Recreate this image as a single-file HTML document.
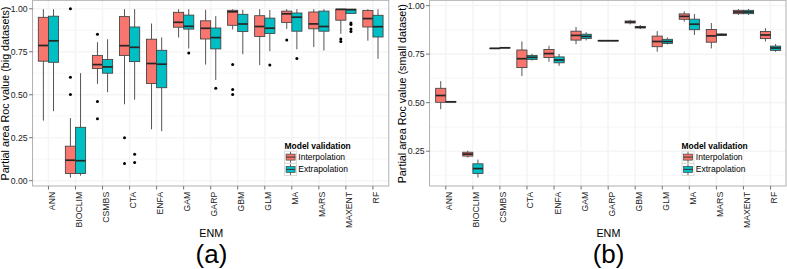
<!DOCTYPE html><html><head><meta charset="utf-8"><style>html,body{margin:0;padding:0;background:#fff;}svg{display:block;}text{font-family:"Liberation Sans",sans-serif;}.tk{font-size:8.7px;fill:#222;}.ti{font-size:10.75px;fill:#000;}.big{font-size:26px;fill:#000;}.lt{font-size:8.45px;font-weight:bold;fill:#000;}.lx{font-size:8.5px;fill:#000;}</style></head><body>
<svg width="787" height="269" viewBox="0 0 787 269">
<rect width="787" height="269" fill="#fff"/>
<rect x="32.6" y="0.3" width="356.2" height="185.7" fill="#fff"/>
<line x1="32.6" x2="388.8" y1="159.21" y2="159.21" stroke="#F9F9F9" stroke-width="1.6"/>
<line x1="32.6" x2="388.8" y1="116.24" y2="116.24" stroke="#F9F9F9" stroke-width="1.6"/>
<line x1="32.6" x2="388.8" y1="73.26" y2="73.26" stroke="#F9F9F9" stroke-width="1.6"/>
<line x1="32.6" x2="388.8" y1="30.29" y2="30.29" stroke="#F9F9F9" stroke-width="1.6"/>
<line x1="32.6" x2="388.8" y1="180.70" y2="180.70" stroke="#F5F5F5" stroke-width="1.6"/>
<line x1="32.6" x2="388.8" y1="137.72" y2="137.72" stroke="#F5F5F5" stroke-width="1.6"/>
<line x1="32.6" x2="388.8" y1="94.75" y2="94.75" stroke="#F5F5F5" stroke-width="1.6"/>
<line x1="32.6" x2="388.8" y1="51.77" y2="51.77" stroke="#F5F5F5" stroke-width="1.6"/>
<line x1="32.6" x2="388.8" y1="8.80" y2="8.80" stroke="#F5F5F5" stroke-width="1.6"/>
<line x1="48.45" x2="48.45" y1="0.3" y2="186.0" stroke="#F5F5F5" stroke-width="1.6"/>
<line x1="75.49" x2="75.49" y1="0.3" y2="186.0" stroke="#F5F5F5" stroke-width="1.6"/>
<line x1="102.53" x2="102.53" y1="0.3" y2="186.0" stroke="#F5F5F5" stroke-width="1.6"/>
<line x1="129.57" x2="129.57" y1="0.3" y2="186.0" stroke="#F5F5F5" stroke-width="1.6"/>
<line x1="156.61" x2="156.61" y1="0.3" y2="186.0" stroke="#F5F5F5" stroke-width="1.6"/>
<line x1="183.65" x2="183.65" y1="0.3" y2="186.0" stroke="#F5F5F5" stroke-width="1.6"/>
<line x1="210.69" x2="210.69" y1="0.3" y2="186.0" stroke="#F5F5F5" stroke-width="1.6"/>
<line x1="237.73" x2="237.73" y1="0.3" y2="186.0" stroke="#F5F5F5" stroke-width="1.6"/>
<line x1="264.77" x2="264.77" y1="0.3" y2="186.0" stroke="#F5F5F5" stroke-width="1.6"/>
<line x1="291.81" x2="291.81" y1="0.3" y2="186.0" stroke="#F5F5F5" stroke-width="1.6"/>
<line x1="318.85" x2="318.85" y1="0.3" y2="186.0" stroke="#F5F5F5" stroke-width="1.6"/>
<line x1="345.89" x2="345.89" y1="0.3" y2="186.0" stroke="#F5F5F5" stroke-width="1.6"/>
<line x1="372.93" x2="372.93" y1="0.3" y2="186.0" stroke="#F5F5F5" stroke-width="1.6"/>
<line x1="43.38" x2="43.38" y1="9.2" y2="17.3" stroke="#555" stroke-width="1"/>
<line x1="43.38" x2="43.38" y1="61.2" y2="120.6" stroke="#555" stroke-width="1"/>
<rect x="38.31" y="17.3" width="10.14" height="43.90" fill="#F8766D" stroke="#404040" stroke-width="0.85"/>
<line x1="38.31" x2="48.45" y1="45.5" y2="45.5" stroke="#262626" stroke-width="1.7"/>
<line x1="53.52" x2="53.52" y1="9.2" y2="16.2" stroke="#555" stroke-width="1"/>
<line x1="53.52" x2="53.52" y1="62.3" y2="111.2" stroke="#555" stroke-width="1"/>
<rect x="48.45" y="16.2" width="10.14" height="46.10" fill="#00BFC4" stroke="#404040" stroke-width="0.85"/>
<line x1="48.45" x2="58.59" y1="40.8" y2="40.8" stroke="#262626" stroke-width="1.7"/>
<line x1="70.42" x2="70.42" y1="118.1" y2="146.2" stroke="#555" stroke-width="1"/>
<line x1="70.42" x2="70.42" y1="173.5" y2="177.6" stroke="#555" stroke-width="1"/>
<rect x="65.35" y="146.2" width="10.14" height="27.30" fill="#F8766D" stroke="#404040" stroke-width="0.85"/>
<line x1="65.35" x2="75.49" y1="160.2" y2="160.2" stroke="#262626" stroke-width="1.7"/>
<circle cx="70.42" cy="8.8" r="1.5" fill="#000"/>
<circle cx="70.42" cy="77.3" r="1.5" fill="#000"/>
<circle cx="70.42" cy="94.6" r="1.5" fill="#000"/>
<line x1="80.56" x2="80.56" y1="73.2" y2="127.3" stroke="#555" stroke-width="1"/>
<line x1="80.56" x2="80.56" y1="173.5" y2="175.7" stroke="#555" stroke-width="1"/>
<rect x="75.49" y="127.3" width="10.14" height="46.20" fill="#00BFC4" stroke="#404040" stroke-width="0.85"/>
<line x1="75.49" x2="85.63" y1="160.7" y2="160.7" stroke="#262626" stroke-width="1.7"/>
<line x1="97.46" x2="97.46" y1="42.2" y2="55.4" stroke="#555" stroke-width="1"/>
<line x1="97.46" x2="97.46" y1="68.5" y2="83.8" stroke="#555" stroke-width="1"/>
<rect x="92.39" y="55.4" width="10.14" height="13.10" fill="#F8766D" stroke="#404040" stroke-width="0.85"/>
<line x1="92.39" x2="102.53" y1="64.6" y2="64.6" stroke="#262626" stroke-width="1.7"/>
<circle cx="97.46" cy="34.2" r="1.5" fill="#000"/>
<circle cx="97.46" cy="101.5" r="1.5" fill="#000"/>
<circle cx="97.46" cy="118.8" r="1.5" fill="#000"/>
<line x1="107.60" x2="107.60" y1="39.2" y2="59.5" stroke="#555" stroke-width="1"/>
<line x1="107.60" x2="107.60" y1="73.2" y2="92.3" stroke="#555" stroke-width="1"/>
<rect x="102.53" y="59.5" width="10.14" height="13.70" fill="#00BFC4" stroke="#404040" stroke-width="0.85"/>
<line x1="102.53" x2="112.67" y1="66.9" y2="66.9" stroke="#262626" stroke-width="1.7"/>
<line x1="124.50" x2="124.50" y1="9.2" y2="16.6" stroke="#555" stroke-width="1"/>
<line x1="124.50" x2="124.50" y1="55.4" y2="104.3" stroke="#555" stroke-width="1"/>
<rect x="119.43" y="16.6" width="10.14" height="38.80" fill="#F8766D" stroke="#404040" stroke-width="0.85"/>
<line x1="119.43" x2="129.57" y1="45.7" y2="45.7" stroke="#262626" stroke-width="1.7"/>
<circle cx="124.50" cy="137.7" r="1.5" fill="#000"/>
<circle cx="124.50" cy="163.6" r="1.5" fill="#000"/>
<line x1="134.64" x2="134.64" y1="9.2" y2="27.0" stroke="#555" stroke-width="1"/>
<line x1="134.64" x2="134.64" y1="61.6" y2="99.7" stroke="#555" stroke-width="1"/>
<rect x="129.57" y="27.0" width="10.14" height="34.60" fill="#00BFC4" stroke="#404040" stroke-width="0.85"/>
<line x1="129.57" x2="139.71" y1="47.3" y2="47.3" stroke="#262626" stroke-width="1.7"/>
<circle cx="134.64" cy="154.2" r="1.5" fill="#000"/>
<circle cx="134.64" cy="162.6" r="1.5" fill="#000"/>
<line x1="151.54" x2="151.54" y1="23.5" y2="39.2" stroke="#555" stroke-width="1"/>
<line x1="151.54" x2="151.54" y1="83.5" y2="129.3" stroke="#555" stroke-width="1"/>
<rect x="146.47" y="39.2" width="10.14" height="44.30" fill="#F8766D" stroke="#404040" stroke-width="0.85"/>
<line x1="146.47" x2="156.61" y1="63.5" y2="63.5" stroke="#262626" stroke-width="1.7"/>
<line x1="161.68" x2="161.68" y1="37.4" y2="50.3" stroke="#555" stroke-width="1"/>
<line x1="161.68" x2="161.68" y1="87.7" y2="131.2" stroke="#555" stroke-width="1"/>
<rect x="156.61" y="50.3" width="10.14" height="37.40" fill="#00BFC4" stroke="#404040" stroke-width="0.85"/>
<line x1="156.61" x2="166.75" y1="64.2" y2="64.2" stroke="#262626" stroke-width="1.7"/>
<line x1="178.58" x2="178.58" y1="9.2" y2="12.3" stroke="#555" stroke-width="1"/>
<line x1="178.58" x2="178.58" y1="27.2" y2="37.5" stroke="#555" stroke-width="1"/>
<rect x="173.51" y="12.3" width="10.14" height="14.90" fill="#F8766D" stroke="#404040" stroke-width="0.85"/>
<line x1="173.51" x2="183.65" y1="22.3" y2="22.3" stroke="#262626" stroke-width="1.7"/>
<line x1="188.72" x2="188.72" y1="9.2" y2="15.1" stroke="#555" stroke-width="1"/>
<line x1="188.72" x2="188.72" y1="29.1" y2="48.5" stroke="#555" stroke-width="1"/>
<rect x="183.65" y="15.1" width="10.14" height="14.00" fill="#00BFC4" stroke="#404040" stroke-width="0.85"/>
<line x1="183.65" x2="193.79" y1="26.3" y2="26.3" stroke="#262626" stroke-width="1.7"/>
<circle cx="188.72" cy="53.1" r="1.5" fill="#000"/>
<line x1="205.62" x2="205.62" y1="9.7" y2="20.8" stroke="#555" stroke-width="1"/>
<line x1="205.62" x2="205.62" y1="39.0" y2="64.6" stroke="#555" stroke-width="1"/>
<rect x="200.55" y="20.8" width="10.14" height="18.20" fill="#F8766D" stroke="#404040" stroke-width="0.85"/>
<line x1="200.55" x2="210.69" y1="28.3" y2="28.3" stroke="#262626" stroke-width="1.7"/>
<line x1="215.76" x2="215.76" y1="16.1" y2="28.0" stroke="#555" stroke-width="1"/>
<line x1="215.76" x2="215.76" y1="48.9" y2="80.0" stroke="#555" stroke-width="1"/>
<rect x="210.69" y="28.0" width="10.14" height="20.90" fill="#00BFC4" stroke="#404040" stroke-width="0.85"/>
<line x1="210.69" x2="220.83" y1="37.6" y2="37.6" stroke="#262626" stroke-width="1.7"/>
<circle cx="215.76" cy="88.2" r="1.5" fill="#000"/>
<line x1="232.66" x2="232.66" y1="9.2" y2="10.3" stroke="#555" stroke-width="1"/>
<line x1="232.66" x2="232.66" y1="25.3" y2="29.5" stroke="#555" stroke-width="1"/>
<rect x="227.59" y="10.3" width="10.14" height="15.00" fill="#F8766D" stroke="#404040" stroke-width="0.85"/>
<line x1="227.59" x2="237.73" y1="11.8" y2="11.8" stroke="#262626" stroke-width="1.7"/>
<circle cx="232.66" cy="64.6" r="1.5" fill="#000"/>
<circle cx="232.66" cy="89.5" r="1.5" fill="#000"/>
<circle cx="232.66" cy="94.6" r="1.5" fill="#000"/>
<line x1="242.80" x2="242.80" y1="9.7" y2="14.3" stroke="#555" stroke-width="1"/>
<line x1="242.80" x2="242.80" y1="31.6" y2="54.2" stroke="#555" stroke-width="1"/>
<rect x="237.73" y="14.3" width="10.14" height="17.30" fill="#00BFC4" stroke="#404040" stroke-width="0.85"/>
<line x1="237.73" x2="247.87" y1="24.0" y2="24.0" stroke="#262626" stroke-width="1.7"/>
<line x1="259.70" x2="259.70" y1="9.2" y2="15.7" stroke="#555" stroke-width="1"/>
<line x1="259.70" x2="259.70" y1="36.5" y2="65.1" stroke="#555" stroke-width="1"/>
<rect x="254.63" y="15.7" width="10.14" height="20.80" fill="#F8766D" stroke="#404040" stroke-width="0.85"/>
<line x1="254.63" x2="264.77" y1="26.5" y2="26.5" stroke="#262626" stroke-width="1.7"/>
<line x1="269.84" x2="269.84" y1="9.9" y2="18.1" stroke="#555" stroke-width="1"/>
<line x1="269.84" x2="269.84" y1="33.5" y2="51.2" stroke="#555" stroke-width="1"/>
<rect x="264.77" y="18.1" width="10.14" height="15.40" fill="#00BFC4" stroke="#404040" stroke-width="0.85"/>
<line x1="264.77" x2="274.91" y1="28.2" y2="28.2" stroke="#262626" stroke-width="1.7"/>
<circle cx="269.84" cy="65.1" r="1.5" fill="#000"/>
<line x1="286.74" x2="286.74" y1="9.2" y2="11.1" stroke="#555" stroke-width="1"/>
<line x1="286.74" x2="286.74" y1="22.6" y2="28.8" stroke="#555" stroke-width="1"/>
<rect x="281.67" y="11.1" width="10.14" height="11.50" fill="#F8766D" stroke="#404040" stroke-width="0.85"/>
<line x1="281.67" x2="291.81" y1="13.8" y2="13.8" stroke="#262626" stroke-width="1.7"/>
<circle cx="286.74" cy="40.1" r="1.5" fill="#000"/>
<line x1="296.88" x2="296.88" y1="9.2" y2="13.0" stroke="#555" stroke-width="1"/>
<line x1="296.88" x2="296.88" y1="31.2" y2="49.3" stroke="#555" stroke-width="1"/>
<rect x="291.81" y="13.0" width="10.14" height="18.20" fill="#00BFC4" stroke="#404040" stroke-width="0.85"/>
<line x1="291.81" x2="301.95" y1="17.2" y2="17.2" stroke="#262626" stroke-width="1.7"/>
<circle cx="296.88" cy="58.6" r="1.5" fill="#000"/>
<line x1="313.78" x2="313.78" y1="9.2" y2="12.0" stroke="#555" stroke-width="1"/>
<line x1="313.78" x2="313.78" y1="28.8" y2="47.1" stroke="#555" stroke-width="1"/>
<rect x="308.71" y="12.0" width="10.14" height="16.80" fill="#F8766D" stroke="#404040" stroke-width="0.85"/>
<line x1="308.71" x2="318.85" y1="23.9" y2="23.9" stroke="#262626" stroke-width="1.7"/>
<line x1="323.92" x2="323.92" y1="9.2" y2="11.1" stroke="#555" stroke-width="1"/>
<line x1="323.92" x2="323.92" y1="31.2" y2="50.5" stroke="#555" stroke-width="1"/>
<rect x="318.85" y="11.1" width="10.14" height="20.10" fill="#00BFC4" stroke="#404040" stroke-width="0.85"/>
<line x1="318.85" x2="328.99" y1="26.5" y2="26.5" stroke="#262626" stroke-width="1.7"/>
<line x1="340.82" x2="340.82" y1="9.2" y2="9.2" stroke="#555" stroke-width="1"/>
<line x1="340.82" x2="340.82" y1="20.2" y2="33.7" stroke="#555" stroke-width="1"/>
<rect x="335.75" y="9.2" width="10.14" height="11.00" fill="#F8766D" stroke="#404040" stroke-width="0.85"/>
<line x1="335.75" x2="345.89" y1="9.4" y2="9.4" stroke="#262626" stroke-width="1.7"/>
<circle cx="340.82" cy="38.9" r="1.5" fill="#000"/>
<circle cx="340.82" cy="41.6" r="1.5" fill="#000"/>
<line x1="350.96" x2="350.96" y1="9.2" y2="9.2" stroke="#555" stroke-width="1"/>
<line x1="350.96" x2="350.96" y1="13.4" y2="13.4" stroke="#555" stroke-width="1"/>
<rect x="345.89" y="9.2" width="10.14" height="4.20" fill="#00BFC4" stroke="#404040" stroke-width="0.85"/>
<line x1="345.89" x2="356.03" y1="9.7" y2="9.7" stroke="#262626" stroke-width="1.7"/>
<circle cx="350.96" cy="23.0" r="1.5" fill="#000"/>
<circle cx="350.96" cy="24.5" r="1.5" fill="#000"/>
<circle cx="350.96" cy="29.0" r="1.5" fill="#000"/>
<circle cx="350.96" cy="31.5" r="1.5" fill="#000"/>
<line x1="367.86" x2="367.86" y1="9.2" y2="10.4" stroke="#555" stroke-width="1"/>
<line x1="367.86" x2="367.86" y1="27.0" y2="40.7" stroke="#555" stroke-width="1"/>
<rect x="362.79" y="10.4" width="10.14" height="16.60" fill="#F8766D" stroke="#404040" stroke-width="0.85"/>
<line x1="362.79" x2="372.93" y1="18.6" y2="18.6" stroke="#262626" stroke-width="1.7"/>
<line x1="378.00" x2="378.00" y1="9.2" y2="15.3" stroke="#555" stroke-width="1"/>
<line x1="378.00" x2="378.00" y1="37.0" y2="58.8" stroke="#555" stroke-width="1"/>
<rect x="372.93" y="15.3" width="10.14" height="21.70" fill="#00BFC4" stroke="#404040" stroke-width="0.85"/>
<line x1="372.93" x2="383.07" y1="26.7" y2="26.7" stroke="#262626" stroke-width="1.7"/>
<rect x="32.6" y="0.3" width="356.2" height="185.7" fill="none" stroke="#A8A8A8" stroke-width="0.9"/>
<line x1="29.1" x2="32.6" y1="180.70" y2="180.70" stroke="#707070" stroke-width="1"/>
<text x="27.6" y="183.70" text-anchor="end" class="tk">0.00</text>
<line x1="29.1" x2="32.6" y1="137.72" y2="137.72" stroke="#707070" stroke-width="1"/>
<text x="27.6" y="140.72" text-anchor="end" class="tk">0.25</text>
<line x1="29.1" x2="32.6" y1="94.75" y2="94.75" stroke="#707070" stroke-width="1"/>
<text x="27.6" y="97.75" text-anchor="end" class="tk">0.50</text>
<line x1="29.1" x2="32.6" y1="51.77" y2="51.77" stroke="#707070" stroke-width="1"/>
<text x="27.6" y="54.77" text-anchor="end" class="tk">0.75</text>
<line x1="29.1" x2="32.6" y1="8.80" y2="8.80" stroke="#707070" stroke-width="1"/>
<text x="27.6" y="11.80" text-anchor="end" class="tk">1.00</text>
<line x1="48.45" x2="48.45" y1="186.0" y2="189.5" stroke="#707070" stroke-width="1"/>
<text transform="translate(54.95,191.8) rotate(-90)" text-anchor="end" class="tk">ANN</text>
<line x1="75.49" x2="75.49" y1="186.0" y2="189.5" stroke="#707070" stroke-width="1"/>
<text transform="translate(81.99,191.8) rotate(-90)" text-anchor="end" class="tk">BIOCLIM</text>
<line x1="102.53" x2="102.53" y1="186.0" y2="189.5" stroke="#707070" stroke-width="1"/>
<text transform="translate(109.03,191.8) rotate(-90)" text-anchor="end" class="tk">CSMBS</text>
<line x1="129.57" x2="129.57" y1="186.0" y2="189.5" stroke="#707070" stroke-width="1"/>
<text transform="translate(136.07,191.8) rotate(-90)" text-anchor="end" class="tk">CTA</text>
<line x1="156.61" x2="156.61" y1="186.0" y2="189.5" stroke="#707070" stroke-width="1"/>
<text transform="translate(163.11,191.8) rotate(-90)" text-anchor="end" class="tk">ENFA</text>
<line x1="183.65" x2="183.65" y1="186.0" y2="189.5" stroke="#707070" stroke-width="1"/>
<text transform="translate(190.15,191.8) rotate(-90)" text-anchor="end" class="tk">GAM</text>
<line x1="210.69" x2="210.69" y1="186.0" y2="189.5" stroke="#707070" stroke-width="1"/>
<text transform="translate(217.19,191.8) rotate(-90)" text-anchor="end" class="tk">GARP</text>
<line x1="237.73" x2="237.73" y1="186.0" y2="189.5" stroke="#707070" stroke-width="1"/>
<text transform="translate(244.23,191.8) rotate(-90)" text-anchor="end" class="tk">GBM</text>
<line x1="264.77" x2="264.77" y1="186.0" y2="189.5" stroke="#707070" stroke-width="1"/>
<text transform="translate(271.27,191.8) rotate(-90)" text-anchor="end" class="tk">GLM</text>
<line x1="291.81" x2="291.81" y1="186.0" y2="189.5" stroke="#707070" stroke-width="1"/>
<text transform="translate(298.31,191.8) rotate(-90)" text-anchor="end" class="tk">MA</text>
<line x1="318.85" x2="318.85" y1="186.0" y2="189.5" stroke="#707070" stroke-width="1"/>
<text transform="translate(325.35,191.8) rotate(-90)" text-anchor="end" class="tk">MARS</text>
<line x1="345.89" x2="345.89" y1="186.0" y2="189.5" stroke="#707070" stroke-width="1"/>
<text transform="translate(352.39,191.8) rotate(-90)" text-anchor="end" class="tk">MAXENT</text>
<line x1="372.93" x2="372.93" y1="186.0" y2="189.5" stroke="#707070" stroke-width="1"/>
<text transform="translate(379.43,191.8) rotate(-90)" text-anchor="end" class="tk">RF</text>
<text transform="translate(9.1,93.6) rotate(-90)" text-anchor="middle" class="ti">Partial area Roc value (big datasets)</text>
<text x="211.30" y="236.9" text-anchor="middle" class="ti">ENM</text>
<text x="211.50" y="263.4" text-anchor="middle" class="big">(a)</text>
<text x="284.6" y="148.8" class="lt">Model validation</text>
<rect x="284.5" y="151.2" width="12" height="12" fill="#fff" stroke="#D8D8D8" stroke-width="0.9"/>
<line x1="290.5" x2="290.5" y1="151.8" y2="162.8" stroke="#444" stroke-width="0.8"/>
<rect x="286.1" y="154.1" width="9" height="6.0" fill="#F8766D" stroke="#444" stroke-width="0.7"/>
<line x1="286.1" x2="295.1" y1="157.1" y2="157.1" stroke="#333" stroke-width="1"/>
<text x="298.3" y="160.1" class="lx">Interpolation</text>
<rect x="284.5" y="163.5" width="12" height="12" fill="#fff" stroke="#D8D8D8" stroke-width="0.9"/>
<line x1="290.5" x2="290.5" y1="164.10000000000002" y2="175.10000000000002" stroke="#444" stroke-width="0.8"/>
<rect x="286.1" y="166.4" width="9" height="6.0" fill="#00BFC4" stroke="#444" stroke-width="0.7"/>
<line x1="286.1" x2="295.1" y1="169.4" y2="169.4" stroke="#333" stroke-width="1"/>
<text x="298.3" y="172.4" class="lx">Extrapolation</text>
<rect x="429.6" y="0.3" width="356.4" height="185.7" fill="#fff"/>
<line x1="429.6" x2="786.0" y1="175.46" y2="175.46" stroke="#F9F9F9" stroke-width="1.6"/>
<line x1="429.6" x2="786.0" y1="126.93" y2="126.93" stroke="#F9F9F9" stroke-width="1.6"/>
<line x1="429.6" x2="786.0" y1="78.40" y2="78.40" stroke="#F9F9F9" stroke-width="1.6"/>
<line x1="429.6" x2="786.0" y1="29.87" y2="29.87" stroke="#F9F9F9" stroke-width="1.6"/>
<line x1="429.6" x2="786.0" y1="151.20" y2="151.20" stroke="#F5F5F5" stroke-width="1.6"/>
<line x1="429.6" x2="786.0" y1="102.66" y2="102.66" stroke="#F5F5F5" stroke-width="1.6"/>
<line x1="429.6" x2="786.0" y1="54.13" y2="54.13" stroke="#F5F5F5" stroke-width="1.6"/>
<line x1="429.6" x2="786.0" y1="5.60" y2="5.60" stroke="#F5F5F5" stroke-width="1.6"/>
<line x1="445.80" x2="445.80" y1="0.3" y2="186.0" stroke="#F5F5F5" stroke-width="1.6"/>
<line x1="472.86" x2="472.86" y1="0.3" y2="186.0" stroke="#F5F5F5" stroke-width="1.6"/>
<line x1="499.92" x2="499.92" y1="0.3" y2="186.0" stroke="#F5F5F5" stroke-width="1.6"/>
<line x1="526.98" x2="526.98" y1="0.3" y2="186.0" stroke="#F5F5F5" stroke-width="1.6"/>
<line x1="554.04" x2="554.04" y1="0.3" y2="186.0" stroke="#F5F5F5" stroke-width="1.6"/>
<line x1="581.10" x2="581.10" y1="0.3" y2="186.0" stroke="#F5F5F5" stroke-width="1.6"/>
<line x1="608.16" x2="608.16" y1="0.3" y2="186.0" stroke="#F5F5F5" stroke-width="1.6"/>
<line x1="635.22" x2="635.22" y1="0.3" y2="186.0" stroke="#F5F5F5" stroke-width="1.6"/>
<line x1="662.28" x2="662.28" y1="0.3" y2="186.0" stroke="#F5F5F5" stroke-width="1.6"/>
<line x1="689.34" x2="689.34" y1="0.3" y2="186.0" stroke="#F5F5F5" stroke-width="1.6"/>
<line x1="716.40" x2="716.40" y1="0.3" y2="186.0" stroke="#F5F5F5" stroke-width="1.6"/>
<line x1="743.46" x2="743.46" y1="0.3" y2="186.0" stroke="#F5F5F5" stroke-width="1.6"/>
<line x1="770.52" x2="770.52" y1="0.3" y2="186.0" stroke="#F5F5F5" stroke-width="1.6"/>
<line x1="440.73" x2="440.73" y1="81.2" y2="88.3" stroke="#555" stroke-width="1"/>
<line x1="440.73" x2="440.73" y1="102.3" y2="109.2" stroke="#555" stroke-width="1"/>
<rect x="435.65" y="88.3" width="10.15" height="14.00" fill="#F8766D" stroke="#404040" stroke-width="0.85"/>
<line x1="435.65" x2="445.80" y1="95.5" y2="95.5" stroke="#262626" stroke-width="1.7"/>
<line x1="450.87" x2="450.87" y1="101.8" y2="101.5" stroke="#555" stroke-width="1"/>
<line x1="450.87" x2="450.87" y1="102.1" y2="101.8" stroke="#555" stroke-width="1"/>
<rect x="445.80" y="101.5" width="10.15" height="0.60" fill="#00BFC4" stroke="#404040" stroke-width="0.85"/>
<line x1="445.80" x2="455.95" y1="101.8" y2="101.8" stroke="#262626" stroke-width="1.7"/>
<line x1="467.79" x2="467.79" y1="150.7" y2="152.2" stroke="#555" stroke-width="1"/>
<line x1="467.79" x2="467.79" y1="156.1" y2="157.5" stroke="#555" stroke-width="1"/>
<rect x="462.71" y="152.2" width="10.15" height="3.90" fill="#F8766D" stroke="#404040" stroke-width="0.85"/>
<line x1="462.71" x2="472.86" y1="154.1" y2="154.1" stroke="#262626" stroke-width="1.7"/>
<line x1="477.93" x2="477.93" y1="159.6" y2="163.8" stroke="#555" stroke-width="1"/>
<line x1="477.93" x2="477.93" y1="173.5" y2="177.5" stroke="#555" stroke-width="1"/>
<rect x="472.86" y="163.8" width="10.15" height="9.70" fill="#00BFC4" stroke="#404040" stroke-width="0.85"/>
<line x1="472.86" x2="483.01" y1="168.6" y2="168.6" stroke="#262626" stroke-width="1.7"/>
<line x1="494.85" x2="494.85" y1="48.4" y2="48.2" stroke="#555" stroke-width="1"/>
<line x1="494.85" x2="494.85" y1="48.6" y2="48.4" stroke="#555" stroke-width="1"/>
<rect x="489.77" y="48.2" width="10.15" height="0.40" fill="#F8766D" stroke="#404040" stroke-width="0.85"/>
<line x1="489.77" x2="499.92" y1="48.4" y2="48.4" stroke="#262626" stroke-width="1.7"/>
<line x1="504.99" x2="504.99" y1="47.8" y2="47.6" stroke="#555" stroke-width="1"/>
<line x1="504.99" x2="504.99" y1="48.0" y2="47.8" stroke="#555" stroke-width="1"/>
<rect x="499.92" y="47.6" width="10.15" height="0.40" fill="#00BFC4" stroke="#404040" stroke-width="0.85"/>
<line x1="499.92" x2="510.07" y1="47.8" y2="47.8" stroke="#262626" stroke-width="1.7"/>
<line x1="521.91" x2="521.91" y1="41.4" y2="50.0" stroke="#555" stroke-width="1"/>
<line x1="521.91" x2="521.91" y1="67.6" y2="76.0" stroke="#555" stroke-width="1"/>
<rect x="516.83" y="50.0" width="10.15" height="17.60" fill="#F8766D" stroke="#404040" stroke-width="0.85"/>
<line x1="516.83" x2="526.98" y1="58.7" y2="58.7" stroke="#262626" stroke-width="1.7"/>
<line x1="532.05" x2="532.05" y1="53.9" y2="55.4" stroke="#555" stroke-width="1"/>
<line x1="532.05" x2="532.05" y1="59.4" y2="60.5" stroke="#555" stroke-width="1"/>
<rect x="526.98" y="55.4" width="10.15" height="4.00" fill="#00BFC4" stroke="#404040" stroke-width="0.85"/>
<line x1="526.98" x2="537.13" y1="57.3" y2="57.3" stroke="#262626" stroke-width="1.7"/>
<line x1="548.97" x2="548.97" y1="45.8" y2="49.5" stroke="#555" stroke-width="1"/>
<line x1="548.97" x2="548.97" y1="57.5" y2="61.7" stroke="#555" stroke-width="1"/>
<rect x="543.89" y="49.5" width="10.15" height="8.00" fill="#F8766D" stroke="#404040" stroke-width="0.85"/>
<line x1="543.89" x2="554.04" y1="53.6" y2="53.6" stroke="#262626" stroke-width="1.7"/>
<line x1="559.11" x2="559.11" y1="53.9" y2="56.9" stroke="#555" stroke-width="1"/>
<line x1="559.11" x2="559.11" y1="62.8" y2="65.8" stroke="#555" stroke-width="1"/>
<rect x="554.04" y="56.9" width="10.15" height="5.90" fill="#00BFC4" stroke="#404040" stroke-width="0.85"/>
<line x1="554.04" x2="564.19" y1="60.0" y2="60.0" stroke="#262626" stroke-width="1.7"/>
<line x1="576.03" x2="576.03" y1="27.0" y2="31.2" stroke="#555" stroke-width="1"/>
<line x1="576.03" x2="576.03" y1="40.1" y2="44.2" stroke="#555" stroke-width="1"/>
<rect x="570.95" y="31.2" width="10.15" height="8.90" fill="#F8766D" stroke="#404040" stroke-width="0.85"/>
<line x1="570.95" x2="581.10" y1="35.4" y2="35.4" stroke="#262626" stroke-width="1.7"/>
<line x1="586.17" x2="586.17" y1="32.2" y2="34.2" stroke="#555" stroke-width="1"/>
<line x1="586.17" x2="586.17" y1="38.6" y2="40.4" stroke="#555" stroke-width="1"/>
<rect x="581.10" y="34.2" width="10.15" height="4.40" fill="#00BFC4" stroke="#404040" stroke-width="0.85"/>
<line x1="581.10" x2="591.25" y1="36.4" y2="36.4" stroke="#262626" stroke-width="1.7"/>
<line x1="603.09" x2="603.09" y1="40.7" y2="40.5" stroke="#555" stroke-width="1"/>
<line x1="603.09" x2="603.09" y1="40.9" y2="40.7" stroke="#555" stroke-width="1"/>
<rect x="598.01" y="40.5" width="10.15" height="0.40" fill="#F8766D" stroke="#404040" stroke-width="0.85"/>
<line x1="598.01" x2="608.16" y1="40.7" y2="40.7" stroke="#262626" stroke-width="1.7"/>
<line x1="613.23" x2="613.23" y1="40.7" y2="40.5" stroke="#555" stroke-width="1"/>
<line x1="613.23" x2="613.23" y1="40.9" y2="40.7" stroke="#555" stroke-width="1"/>
<rect x="608.16" y="40.5" width="10.15" height="0.40" fill="#00BFC4" stroke="#404040" stroke-width="0.85"/>
<line x1="608.16" x2="618.31" y1="40.7" y2="40.7" stroke="#262626" stroke-width="1.7"/>
<line x1="630.15" x2="630.15" y1="19.8" y2="21.0" stroke="#555" stroke-width="1"/>
<line x1="630.15" x2="630.15" y1="23.0" y2="24.4" stroke="#555" stroke-width="1"/>
<rect x="625.07" y="21.0" width="10.15" height="2.00" fill="#F8766D" stroke="#404040" stroke-width="0.85"/>
<line x1="625.07" x2="635.22" y1="22.0" y2="22.0" stroke="#262626" stroke-width="1.7"/>
<line x1="640.29" x2="640.29" y1="25.0" y2="26.4" stroke="#555" stroke-width="1"/>
<line x1="640.29" x2="640.29" y1="28.0" y2="29.0" stroke="#555" stroke-width="1"/>
<rect x="635.22" y="26.4" width="10.15" height="1.60" fill="#00BFC4" stroke="#404040" stroke-width="0.85"/>
<line x1="635.22" x2="645.37" y1="27.2" y2="27.2" stroke="#262626" stroke-width="1.7"/>
<line x1="657.21" x2="657.21" y1="31.1" y2="36.1" stroke="#555" stroke-width="1"/>
<line x1="657.21" x2="657.21" y1="46.7" y2="51.7" stroke="#555" stroke-width="1"/>
<rect x="652.13" y="36.1" width="10.15" height="10.60" fill="#F8766D" stroke="#404040" stroke-width="0.85"/>
<line x1="652.13" x2="662.28" y1="41.5" y2="41.5" stroke="#262626" stroke-width="1.7"/>
<line x1="667.35" x2="667.35" y1="37.5" y2="39.3" stroke="#555" stroke-width="1"/>
<line x1="667.35" x2="667.35" y1="43.4" y2="44.5" stroke="#555" stroke-width="1"/>
<rect x="662.28" y="39.3" width="10.15" height="4.10" fill="#00BFC4" stroke="#404040" stroke-width="0.85"/>
<line x1="662.28" x2="672.43" y1="41.5" y2="41.5" stroke="#262626" stroke-width="1.7"/>
<line x1="684.27" x2="684.27" y1="11.4" y2="13.9" stroke="#555" stroke-width="1"/>
<line x1="684.27" x2="684.27" y1="19.3" y2="21.7" stroke="#555" stroke-width="1"/>
<rect x="679.19" y="13.9" width="10.15" height="5.40" fill="#F8766D" stroke="#404040" stroke-width="0.85"/>
<line x1="679.19" x2="689.34" y1="16.4" y2="16.4" stroke="#262626" stroke-width="1.7"/>
<line x1="694.41" x2="694.41" y1="14.1" y2="19.2" stroke="#555" stroke-width="1"/>
<line x1="694.41" x2="694.41" y1="29.7" y2="35.0" stroke="#555" stroke-width="1"/>
<rect x="689.34" y="19.2" width="10.15" height="10.50" fill="#00BFC4" stroke="#404040" stroke-width="0.85"/>
<line x1="689.34" x2="699.49" y1="24.2" y2="24.2" stroke="#262626" stroke-width="1.7"/>
<line x1="711.33" x2="711.33" y1="23.0" y2="29.5" stroke="#555" stroke-width="1"/>
<line x1="711.33" x2="711.33" y1="42.2" y2="48.4" stroke="#555" stroke-width="1"/>
<rect x="706.25" y="29.5" width="10.15" height="12.70" fill="#F8766D" stroke="#404040" stroke-width="0.85"/>
<line x1="706.25" x2="716.40" y1="35.9" y2="35.9" stroke="#262626" stroke-width="1.7"/>
<line x1="721.47" x2="721.47" y1="33.5" y2="34.0" stroke="#555" stroke-width="1"/>
<line x1="721.47" x2="721.47" y1="35.4" y2="35.9" stroke="#555" stroke-width="1"/>
<rect x="716.40" y="34.0" width="10.15" height="1.40" fill="#00BFC4" stroke="#404040" stroke-width="0.85"/>
<line x1="716.40" x2="726.55" y1="34.7" y2="34.7" stroke="#262626" stroke-width="1.7"/>
<line x1="738.39" x2="738.39" y1="9.1" y2="10.3" stroke="#555" stroke-width="1"/>
<line x1="738.39" x2="738.39" y1="13.7" y2="15.0" stroke="#555" stroke-width="1"/>
<rect x="733.31" y="10.3" width="10.15" height="3.40" fill="#F8766D" stroke="#404040" stroke-width="0.85"/>
<line x1="733.31" x2="743.46" y1="12.0" y2="12.0" stroke="#262626" stroke-width="1.7"/>
<line x1="748.53" x2="748.53" y1="8.9" y2="10.3" stroke="#555" stroke-width="1"/>
<line x1="748.53" x2="748.53" y1="13.7" y2="15.0" stroke="#555" stroke-width="1"/>
<rect x="743.46" y="10.3" width="10.15" height="3.40" fill="#00BFC4" stroke="#404040" stroke-width="0.85"/>
<line x1="743.46" x2="753.61" y1="12.0" y2="12.0" stroke="#262626" stroke-width="1.7"/>
<line x1="765.45" x2="765.45" y1="28.1" y2="31.5" stroke="#555" stroke-width="1"/>
<line x1="765.45" x2="765.45" y1="38.6" y2="41.5" stroke="#555" stroke-width="1"/>
<rect x="760.37" y="31.5" width="10.15" height="7.10" fill="#F8766D" stroke="#404040" stroke-width="0.85"/>
<line x1="760.37" x2="770.52" y1="35.0" y2="35.0" stroke="#262626" stroke-width="1.7"/>
<line x1="775.59" x2="775.59" y1="44.1" y2="46.1" stroke="#555" stroke-width="1"/>
<line x1="775.59" x2="775.59" y1="50.4" y2="51.9" stroke="#555" stroke-width="1"/>
<rect x="770.52" y="46.1" width="10.15" height="4.30" fill="#00BFC4" stroke="#404040" stroke-width="0.85"/>
<line x1="770.52" x2="780.67" y1="48.0" y2="48.0" stroke="#262626" stroke-width="1.7"/>
<rect x="429.6" y="0.3" width="356.4" height="185.7" fill="none" stroke="#A8A8A8" stroke-width="0.9"/>
<line x1="426.1" x2="429.6" y1="151.20" y2="151.20" stroke="#707070" stroke-width="1"/>
<text x="424.6" y="154.20" text-anchor="end" class="tk">0.25</text>
<line x1="426.1" x2="429.6" y1="102.66" y2="102.66" stroke="#707070" stroke-width="1"/>
<text x="424.6" y="105.66" text-anchor="end" class="tk">0.50</text>
<line x1="426.1" x2="429.6" y1="54.13" y2="54.13" stroke="#707070" stroke-width="1"/>
<text x="424.6" y="57.13" text-anchor="end" class="tk">0.75</text>
<line x1="426.1" x2="429.6" y1="5.60" y2="5.60" stroke="#707070" stroke-width="1"/>
<text x="424.6" y="8.60" text-anchor="end" class="tk">1.00</text>
<line x1="445.80" x2="445.80" y1="186.0" y2="189.5" stroke="#707070" stroke-width="1"/>
<text transform="translate(452.30,191.8) rotate(-90)" text-anchor="end" class="tk">ANN</text>
<line x1="472.86" x2="472.86" y1="186.0" y2="189.5" stroke="#707070" stroke-width="1"/>
<text transform="translate(479.36,191.8) rotate(-90)" text-anchor="end" class="tk">BIOCLIM</text>
<line x1="499.92" x2="499.92" y1="186.0" y2="189.5" stroke="#707070" stroke-width="1"/>
<text transform="translate(506.42,191.8) rotate(-90)" text-anchor="end" class="tk">CSMBS</text>
<line x1="526.98" x2="526.98" y1="186.0" y2="189.5" stroke="#707070" stroke-width="1"/>
<text transform="translate(533.48,191.8) rotate(-90)" text-anchor="end" class="tk">CTA</text>
<line x1="554.04" x2="554.04" y1="186.0" y2="189.5" stroke="#707070" stroke-width="1"/>
<text transform="translate(560.54,191.8) rotate(-90)" text-anchor="end" class="tk">ENFA</text>
<line x1="581.10" x2="581.10" y1="186.0" y2="189.5" stroke="#707070" stroke-width="1"/>
<text transform="translate(587.60,191.8) rotate(-90)" text-anchor="end" class="tk">GAM</text>
<line x1="608.16" x2="608.16" y1="186.0" y2="189.5" stroke="#707070" stroke-width="1"/>
<text transform="translate(614.66,191.8) rotate(-90)" text-anchor="end" class="tk">GARP</text>
<line x1="635.22" x2="635.22" y1="186.0" y2="189.5" stroke="#707070" stroke-width="1"/>
<text transform="translate(641.72,191.8) rotate(-90)" text-anchor="end" class="tk">GBM</text>
<line x1="662.28" x2="662.28" y1="186.0" y2="189.5" stroke="#707070" stroke-width="1"/>
<text transform="translate(668.78,191.8) rotate(-90)" text-anchor="end" class="tk">GLM</text>
<line x1="689.34" x2="689.34" y1="186.0" y2="189.5" stroke="#707070" stroke-width="1"/>
<text transform="translate(695.84,191.8) rotate(-90)" text-anchor="end" class="tk">MA</text>
<line x1="716.40" x2="716.40" y1="186.0" y2="189.5" stroke="#707070" stroke-width="1"/>
<text transform="translate(722.90,191.8) rotate(-90)" text-anchor="end" class="tk">MARS</text>
<line x1="743.46" x2="743.46" y1="186.0" y2="189.5" stroke="#707070" stroke-width="1"/>
<text transform="translate(749.96,191.8) rotate(-90)" text-anchor="end" class="tk">MAXENT</text>
<line x1="770.52" x2="770.52" y1="186.0" y2="189.5" stroke="#707070" stroke-width="1"/>
<text transform="translate(777.02,191.8) rotate(-90)" text-anchor="end" class="tk">RF</text>
<text transform="translate(406.3,93.7) rotate(-90)" text-anchor="middle" class="ti">Partial area Roc value (small dataset)</text>
<text x="608.40" y="236.9" text-anchor="middle" class="ti">ENM</text>
<text x="608.60" y="263.4" text-anchor="middle" class="big">(b)</text>
<text x="681.6" y="148.8" class="lt">Model validation</text>
<rect x="682.0" y="151.2" width="12" height="12" fill="#fff" stroke="#D8D8D8" stroke-width="0.9"/>
<line x1="688.0" x2="688.0" y1="151.8" y2="162.8" stroke="#444" stroke-width="0.8"/>
<rect x="683.6" y="154.1" width="9" height="6.0" fill="#F8766D" stroke="#444" stroke-width="0.7"/>
<line x1="683.6" x2="692.6" y1="157.1" y2="157.1" stroke="#333" stroke-width="1"/>
<text x="695.8" y="160.1" class="lx">Interpolation</text>
<rect x="682.0" y="163.5" width="12" height="12" fill="#fff" stroke="#D8D8D8" stroke-width="0.9"/>
<line x1="688.0" x2="688.0" y1="164.10000000000002" y2="175.10000000000002" stroke="#444" stroke-width="0.8"/>
<rect x="683.6" y="166.4" width="9" height="6.0" fill="#00BFC4" stroke="#444" stroke-width="0.7"/>
<line x1="683.6" x2="692.6" y1="169.4" y2="169.4" stroke="#333" stroke-width="1"/>
<text x="695.8" y="172.4" class="lx">Extrapolation</text>
</svg></body></html>
